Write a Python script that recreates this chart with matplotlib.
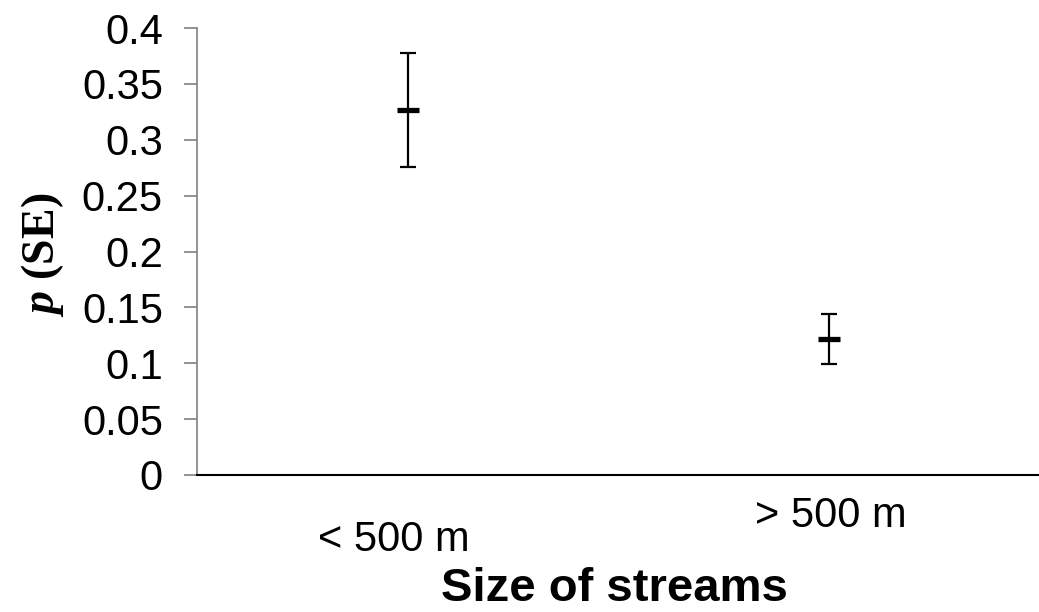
import matplotlib
matplotlib.use("Agg")
import matplotlib.pyplot as plt

plt.rcParams["mathtext.fontset"] = "custom"
plt.rcParams["mathtext.rm"] = "Liberation Serif:bold"
plt.rcParams["mathtext.bf"] = "Liberation Serif:bold"
plt.rcParams["mathtext.it"] = "Liberation Serif:italic:bold"
plt.rcParams["mathtext.bfit"] = "Liberation Serif:italic:bold"

# Detection probability by stream size
categories = ["< 500 m", "> 500 m"]
p_mean = [0.327, 0.122]
p_se = [0.051, 0.0225]
yticks = [0, 0.05, 0.1, 0.15, 0.2, 0.25, 0.3, 0.35, 0.4]
ytick_labels = ["0", "0.05", "0.1", "0.15", "0.2", "0.25", "0.3", "0.35", "0.4"]

W, H = 1039, 612
fig = plt.figure(figsize=(W / 100, H / 100), dpi=100)
ax = fig.add_axes([197 / W, 1 - 475 / H, 1 - 197 / W, (475 - 28) / H])

xpos = [0.5, 1.5]
ax.errorbar(xpos, p_mean, yerr=p_se, fmt="none", ecolor="black",
            elinewidth=1.6, capsize=5.8, capthick=1.6)
ax.plot(xpos, p_mean, linestyle="none", marker="_", markersize=16,
        markeredgewidth=3.8, color="black")

ax.set_xlim(0, 2)
ax.set_ylim(0, 0.4)
ax.set_yticks(yticks)
ax.set_yticklabels(ytick_labels, fontsize=30, fontfamily="Liberation Sans")
ax.set_xticks([])

for side in ("top", "right"):
    ax.spines[side].set_visible(False)
ax.spines["left"].set_color("#808080")
ax.spines["left"].set_linewidth(1.2)
ax.spines["bottom"].set_color("black")
ax.spines["bottom"].set_linewidth(1.5)
ax.tick_params(axis="y", length=9.5, width=1.2, color="#808080", pad=15)

# category labels sit at slightly different heights
fig.text(394 / W, 1 - 551 / H, categories[0], ha="center", va="baseline",
         fontsize=30, fontfamily="Liberation Sans")
fig.text(831 / W, 1 - 527 / H, categories[1], ha="center", va="baseline",
         fontsize=30, fontfamily="Liberation Sans")

fig.text(614 / W, 1 - 601 / H, "Size of streams", ha="center", va="baseline",
         fontsize=34, fontweight="bold", fontfamily="Liberation Sans")

fig.text(43 / W, 1 - 255 / H, r"$\boldsymbol{p}$ (SE)", rotation=90,
         ha="center", va="center", fontsize=33, fontweight="bold",
         fontfamily="Liberation Serif")

fig.savefig("out.png", dpi=100)
